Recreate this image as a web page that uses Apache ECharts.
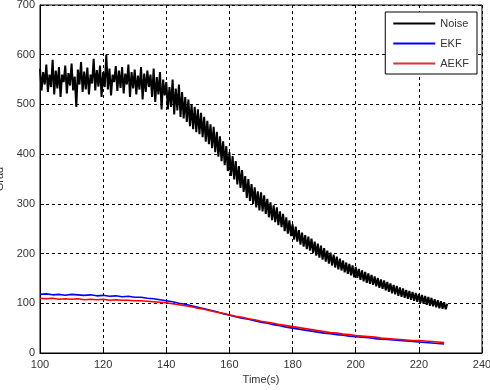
<!DOCTYPE html>
<html>
<head>
<meta charset="utf-8">
<script src="https://cdn.jsdelivr.net/npm/echarts@6/dist/echarts.min.js"></script>
<style>
  html, body { margin: 0; padding: 0; background: #fff; }
  #main { width: 490px; height: 390px; }
</style>
</head>
<body>
<div id="main"></div>
<script>
var seriesNames = ['Noise', 'EKF', 'AEKF'];
var xTicks = [100, 120, 140, 160, 180, 200, 220, 240];
var yTicks = [0, 100, 200, 300, 400, 500, 600, 700];

// noise samples, every 0.5 s from 100 s
var noiseStart = 100, noiseStep = 0.5;
var noiseValues = [
    572, 528, 565, 540, 580, 525, 560, 535, 590, 520,
    568, 532, 575, 515, 560, 545, 578, 522, 563, 538,
    582, 528, 556, 495, 570, 540, 585, 525, 566, 530,
    574, 520, 560, 542, 592, 528, 569, 536, 578, 515,
    565, 535, 600, 530, 572, 518, 560, 545, 577, 527,
    568, 533, 575, 522, 562, 540, 580, 515, 565, 532,
    570, 520, 558, 530, 575, 510, 562, 525, 568, 535,
    560, 515, 572, 505, 555, 520, 565, 490, 550, 518,
    545, 490, 535, 495, 550, 480, 532, 488, 540, 475,
    525, 472, 515, 465, 510, 456, 500, 450, 495, 444,
    490, 440, 483, 434, 475, 425, 467, 420, 460, 412,
    455, 404, 445, 395, 436, 386, 426, 378, 416, 366,
    404, 356, 396, 349, 386, 339, 376, 332, 368, 324,
    356, 312, 350, 306, 340, 300, 333, 293, 325, 287,
    323, 285, 317, 280, 310, 273, 303, 267, 297, 263,
    293, 257, 285, 253, 280, 245, 273, 240, 267, 235,
    259, 228, 254, 224, 247, 218, 242, 214, 237, 209,
    234, 206, 230, 201, 224, 196, 220, 192, 216, 188,
    211, 184, 206, 180, 202, 176, 198, 172, 194, 168,
    190, 166, 186, 162, 182, 159, 179, 156, 176, 152,
    173, 151, 169, 147, 166, 144, 163, 141, 160, 139,
    157, 137, 154, 134, 151, 131, 148, 129, 146, 126,
    143, 123, 140, 120, 137, 118, 135, 115, 132, 113,
    130, 111, 127, 109, 125, 107, 123, 105, 121, 103,
    119, 101, 117, 99, 115, 97, 113, 95, 111, 94,
    108, 92, 106, 90, 104, 89, 102, 88, 99
];

// filter estimates, every 2 s from 100 s
var filtStart = 100, filtStep = 2;
var ekfValues = [
    118, 119, 117, 118, 116, 118, 117, 116, 117, 115,
    116, 114, 115, 113, 114, 112, 112, 110, 109, 107,
    105, 103, 100, 98, 95, 92, 89, 86, 83, 79,
    76, 73, 70, 68, 65, 62, 60, 57, 55, 52,
    50, 48, 46, 44, 42, 40, 39, 37, 36, 34,
    33, 32, 31, 29, 28, 27, 26, 25, 24, 23,
    22, 21, 20, 19, 18
];
var aekfValues = [
    110, 109, 110, 108, 109, 108, 109, 107, 108, 107,
    108, 106, 107, 106, 106, 105, 105, 104, 103, 102,
    101, 99, 97, 95, 93, 90, 88, 85, 82, 80,
    77, 74, 72, 69, 67, 64, 62, 60, 57, 55,
    53, 51, 49, 47, 45, 43, 41, 40, 38, 37,
    35, 34, 33, 32, 30, 29, 28, 27, 26, 25,
    25, 24, 23, 22, 21
];

function toPairs(start, step, vals) {
    var res = [];
    for (var i = 0; i < vals.length; i++) {
        res.push([start + i * step, vals[i]]);
    }
    return res;
}

var myChart = echarts.init(document.getElementById('main'), null, {renderer: 'canvas'});

var axisFont = {fontFamily: 'Liberation Sans, Arial, sans-serif', fontSize: 11, color: '#333'};
var gridLine = {show: true, lineStyle: {color: '#000', type: [3, 3], width: 1}};

var option = {
    animation: false,
    grid: {
        left: 40, right: 8, top: 5, bottom: 37,
        outerBoundsMode: 'none', containLabel: false,
        show: true, borderColor: '#000', borderWidth: 1
    },
    legend: {
        data: seriesNames,
        orient: 'vertical',
        right: 13, top: 12,
        icon: 'rect',
        itemWidth: 42, itemHeight: 2,
        itemGap: 9,
        padding: [6, 8, 5, 8],
        borderColor: '#000', borderWidth: 1,
        backgroundColor: '#fff',
        textStyle: {fontFamily: 'Liberation Sans, Arial, sans-serif', fontSize: 11, color: '#333'}
    },
    xAxis: {
        type: 'value',
        min: xTicks[0], max: xTicks[xTicks.length - 1], interval: 20,
        name: 'Time(s)', nameLocation: 'middle', nameGap: 21,
        nameMoveOverlap: false,
        nameTextStyle: axisFont,
        axisLine: {show: true, onZero: false, lineStyle: {color: '#000', width: 1}},
        axisTick: {show: true, inside: true, length: 4, lineStyle: {color: '#000'}},
        axisLabel: Object.assign({margin: 6}, axisFont),
        splitLine: gridLine
    },
    yAxis: {
        type: 'value',
        min: yTicks[0], max: yTicks[yTicks.length - 1], interval: 100,
        name: 'Grad', nameLocation: 'middle', nameGap: 35, nameRotate: 90,
        nameMoveOverlap: false,
        nameTextStyle: axisFont,
        axisLine: {show: true, lineStyle: {color: '#000', width: 1}},
        axisTick: {show: true, inside: true, length: 4, lineStyle: {color: '#000'}},
        axisLabel: Object.assign({margin: 5}, axisFont),
        splitLine: gridLine
    },
    series: [
        {
            name: seriesNames[0], type: 'line', showSymbol: false, symbol: 'none',
            data: toPairs(noiseStart, noiseStep, noiseValues),
            lineStyle: {color: '#000', width: 2}, itemStyle: {color: '#000'},
            z: 3
        },
        {
            name: seriesNames[1], type: 'line', showSymbol: false, symbol: 'none',
            data: toPairs(filtStart, filtStep, ekfValues),
            lineStyle: {color: '#0000ff', width: 1.6}, itemStyle: {color: '#0000ff'},
            z: 4
        },
        {
            name: seriesNames[2], type: 'line', showSymbol: false, symbol: 'none',
            data: toPairs(filtStart, filtStep, aekfValues),
            lineStyle: {color: '#ff0000', width: 1.6}, itemStyle: {color: '#e03030'},
            z: 5
        }
    ]
};

myChart.setOption(option);
</script>
</body>
</html>
